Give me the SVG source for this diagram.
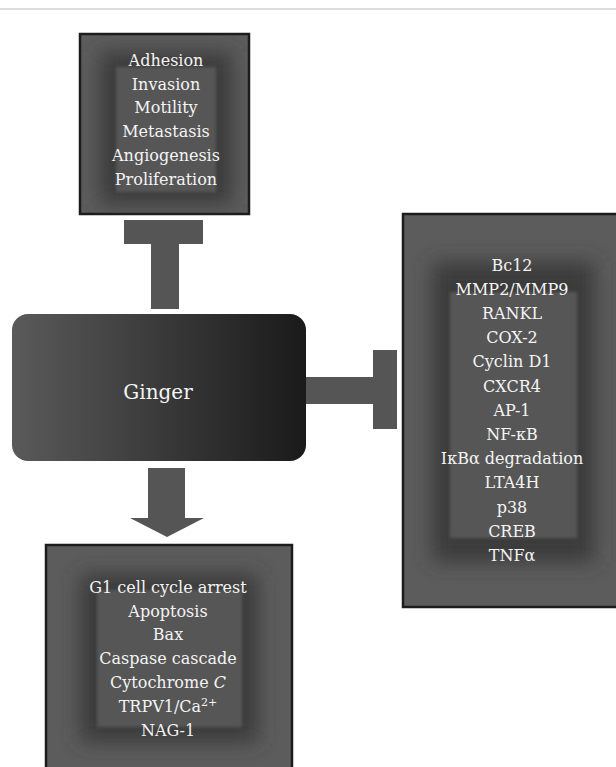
<svg xmlns="http://www.w3.org/2000/svg" width="616" height="767" viewBox="0 0 616 767">
<defs>
<style>
.outer{fill:#5c5c5c;stroke:#1c1c1c;stroke-width:2.5}
.halo{fill:#3a3a3a;filter:url(#blur)}
.inner{fill:#575757;filter:url(#soft)}
.lbl{font-family:"DejaVu Serif","Liberation Serif",serif;font-size:16px;fill:#f4f4f4;text-anchor:middle}
.conn{fill:#555555}
</style>
<filter id="blur" x="-30%" y="-30%" width="160%" height="160%"><feGaussianBlur stdDeviation="10"/></filter>
<filter id="soft" x="-10%" y="-10%" width="120%" height="120%"><feGaussianBlur stdDeviation="1.5"/></filter>
<linearGradient id="gGinger" x1="0" y1="0" x2="1" y2="0">
<stop offset="0" stop-color="#5a5a5a"/>
<stop offset="1" stop-color="#1a1a1a"/>
</linearGradient>
<clipPath id="cTop"><rect x="80" y="34" width="169" height="180"/></clipPath>
<clipPath id="cRight"><rect x="403" y="214" width="220" height="393"/></clipPath>
<clipPath id="cBot"><rect x="46" y="545" width="246" height="230"/></clipPath>
</defs>
<rect x="0" y="8" width="616" height="2" fill="#dcdcdc"/>

<g id="node-top">
<rect class="outer" x="80" y="34" width="169" height="180"/>
<g clip-path="url(#cTop)">
<rect class="halo" x="100" y="52" width="132" height="152"/>
<rect class="inner" x="116" y="67" width="100" height="125"/>
</g>
<text class="lbl" x="166" y="66">Adhesion</text>
<text class="lbl" x="166" y="90">Invasion</text>
<text class="lbl" x="166" y="113">Motility</text>
<text class="lbl" x="166" y="137">Metastasis</text>
<text class="lbl" x="166" y="161">Angiogenesis</text>
<text class="lbl" x="166" y="185">Proliferation</text>
</g>

<g id="node-ginger">
<rect x="12" y="314" width="294" height="147" rx="16" ry="16" fill="url(#gGinger)"/>
<text class="lbl" x="158" y="399" style="font-size:20px">Ginger</text>
</g>

<g id="node-right">
<rect class="outer" x="403" y="214" width="220" height="393"/>
<g clip-path="url(#cRight)">
<rect class="halo" x="432" y="262" width="163" height="300"/>
<rect class="inner" x="450" y="292" width="127" height="246"/>
</g>
<text class="lbl" x="512" y="271">Bc12</text>
<text class="lbl" x="512" y="295">MMP2/MMP9</text>
<text class="lbl" x="512" y="319">RANKL</text>
<text class="lbl" x="512" y="343">COX-2</text>
<text class="lbl" x="512" y="367">Cyclin D1</text>
<text class="lbl" x="512" y="392">CXCR4</text>
<text class="lbl" x="512" y="416">AP-1</text>
<text class="lbl" x="512" y="440">NF-κB</text>
<text class="lbl" x="512" y="464">IκBα degradation</text>
<text class="lbl" x="512" y="488">LTA4H</text>
<text class="lbl" x="512" y="513">p38</text>
<text class="lbl" x="512" y="537">CREB</text>
<text class="lbl" x="512" y="561">TNFα</text>
</g>

<g id="node-bottom">
<rect class="outer" x="46" y="545" width="246" height="230"/>
<g clip-path="url(#cBot)">
<rect class="halo" x="80" y="574" width="178" height="168"/>
<rect class="inner" x="97" y="590" width="145" height="137"/>
</g>
<text class="lbl" x="168" y="593">G1 cell cycle arrest</text>
<text class="lbl" x="168" y="617">Apoptosis</text>
<text class="lbl" x="168" y="640">Bax</text>
<text class="lbl" x="168" y="664">Caspase cascade</text>
<text class="lbl" x="168" y="688">Cytochrome <tspan font-style="italic">C</tspan></text>
<text class="lbl" x="168" y="712">TRPV1/Ca<tspan dy="-6" style="font-size:11px">2+</tspan></text>
<text class="lbl" x="168" y="736">NAG-1</text>
</g>

<g id="connectors">
<polygon class="conn" points="124,220 203,220 203,244 179,244 179,309 151,309 151,244 124,244"/>
<polygon class="conn" points="306,377 373,377 373,350 397,350 397,429 373,429 373,404 306,404"/>
<polygon class="conn" points="148,468 185,468 185,518 204,518 167,537 130,518 148,518"/>
</g>
</svg>
